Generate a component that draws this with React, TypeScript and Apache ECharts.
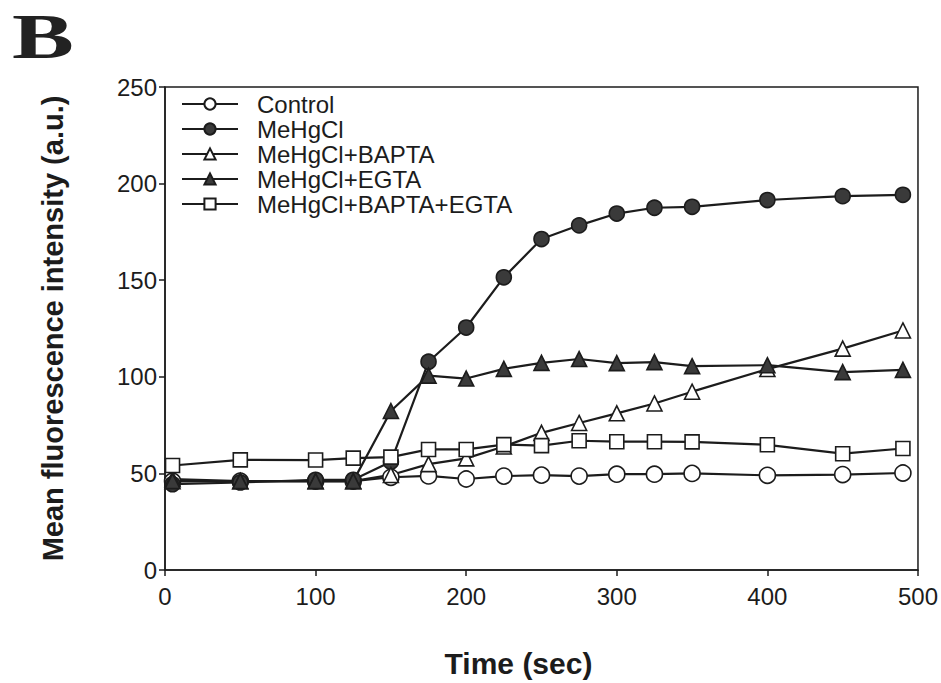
import React, { useEffect, useRef } from "react";
import * as echarts from "echarts";

// Sampling times (sec)
const times = [5, 50, 100, 125, 150, 175, 200, 225, 250, 275, 300, 325, 350, 400, 450, 490];

// Mean fluorescence intensity (a.u.) per condition
const control = [46, 46, 46, 46, 48, 48.7, 47.1, 48.6, 49.1, 48.6, 49.6, 49.6, 50, 49, 49.4, 50.2];
const mehgcl = [44.4, 45.3, 46.7, 46.7, 56, 107.8, 125.5, 151.5, 171.3, 178.4, 184.5, 187.5, 188, 191.5, 193.5, 194.2];
const mehgclBapta = [47, 46, 46, 46, 49.2, 54.8, 57.8, 63.9, 71, 76.1, 81.1, 86.2, 92.3, 104, 114.6, 124];
const mehgclEgta = [46, 46, 46, 46, 82.3, 100.6, 99.1, 104.1, 107.2, 109.2, 107.1, 107.6, 105.5, 106, 102.4, 103.6];
const mehgclBaptaEgta = [54.1, 57, 56.9, 57.9, 58.4, 62.4, 62.4, 64.9, 64.4, 66.9, 66.4, 66.4, 66.3, 64.8, 60.2, 62.9];

const seriesNames = ["Control", "MeHgCl", "MeHgCl+BAPTA", "MeHgCl+EGTA", "MeHgCl+BAPTA+EGTA"];

const xTicks = [0, 100, 200, 300, 400, 500];
const yTicks = [0, 50, 100, 150, 200, 250];

const FONT = "Liberation Sans, Arial, sans-serif";
const INK = "#1c1c1c";

function pairs(values: number[]) {
  return times.map((t, i) => [t, values[i]]);
}

export default function App() {
  const ref = useRef<HTMLDivElement>(null);

  useEffect(() => {
    if (!ref.current) return;
    const chart = echarts.init(ref.current, undefined, { renderer: "svg" });

    const makeSeries = (
      name: string,
      values: number[],
      symbol: string,
      size: number,
      fill: string
    ) => ({
      name,
      type: "line",
      data: pairs(values),
      symbol,
      symbolSize: size,
      showSymbol: true,
      lineStyle: { color: INK, width: 2.2 },
      itemStyle: { color: fill, borderColor: INK, borderWidth: 1.6 },
      emphasis: { disabled: true },
    });

    chart.setOption({
      animation: false,
      backgroundColor: "#ffffff",
      grid: {
        left: 165,
        right: 20,
        top: 87,
        bottom: 104,
        show: true,
        borderColor: INK,
        borderWidth: 1.5,
        backgroundColor: "transparent",
      },
      legend: {
        show: true,
        orient: "vertical",
        left: 176,
        top: 87,
        itemWidth: 56,
        itemHeight: 14,
        itemGap: 1,
        data: seriesNames,
        textStyle: { fontFamily: FONT, fontSize: 24, color: INK, padding: [0, 0, 0, 14] },
      },
      xAxis: {
        type: "value",
        min: xTicks[0],
        max: xTicks[xTicks.length - 1],
        interval: 100,
        name: "Time (sec)",
        nameLocation: "middle",
        nameGap: 78,
        nameTextStyle: {
          fontFamily: FONT,
          fontSize: 30,
          fontWeight: "bold",
          color: INK,
          padding: [0, 46, 0, 0],
        },
        axisLine: { show: true, lineStyle: { color: INK, width: 1.5 } },
        axisTick: { show: true, length: 6, inside: false, lineStyle: { color: INK, width: 1.5 } },
        axisLabel: { fontFamily: FONT, fontSize: 24, color: INK, margin: 14 },
        splitLine: { show: false },
      },
      yAxis: {
        type: "value",
        min: yTicks[0],
        max: yTicks[yTicks.length - 1],
        interval: 50,
        name: "Mean fluorescence intensity (a.u.)",
        nameLocation: "middle",
        nameGap: 98,
        nameRotate: 90,
        nameTextStyle: { fontFamily: FONT, fontSize: 29, fontWeight: "bold", color: INK },
        axisLine: { show: true, lineStyle: { color: INK, width: 1.5 } },
        axisTick: { show: true, length: 6, inside: false, lineStyle: { color: INK, width: 1.5 } },
        axisLabel: { fontFamily: FONT, fontSize: 24, color: INK, margin: 8 },
        splitLine: { show: false },
      },
      graphic: [
        {
          type: "text",
          x: 12,
          y: 4,
          scaleX: 1.45,
          style: {
            text: "B",
            font: "bold 64px 'Liberation Serif', 'Times New Roman', serif",
            fill: "#222",
          },
        },
      ],
      series: [
        makeSeries(seriesNames[0], control, "circle", 16, "#ffffff"),
        makeSeries(seriesNames[1], mehgcl, "circle", 15, "#3a3a3a"),
        makeSeries(seriesNames[2], mehgclBapta, "triangle", 15, "#ffffff"),
        makeSeries(seriesNames[3], mehgclEgta, "triangle", 15, "#3a3a3a"),
        makeSeries(seriesNames[4], mehgclBaptaEgta, "rect", 14, "#ffffff"),
      ],
    });

    return () => chart.dispose();
  }, []);

  return (
    <div
      ref={ref}
      style={{ position: "fixed", left: 0, top: 0, width: 941, height: 683 }}
    />
  );
}
